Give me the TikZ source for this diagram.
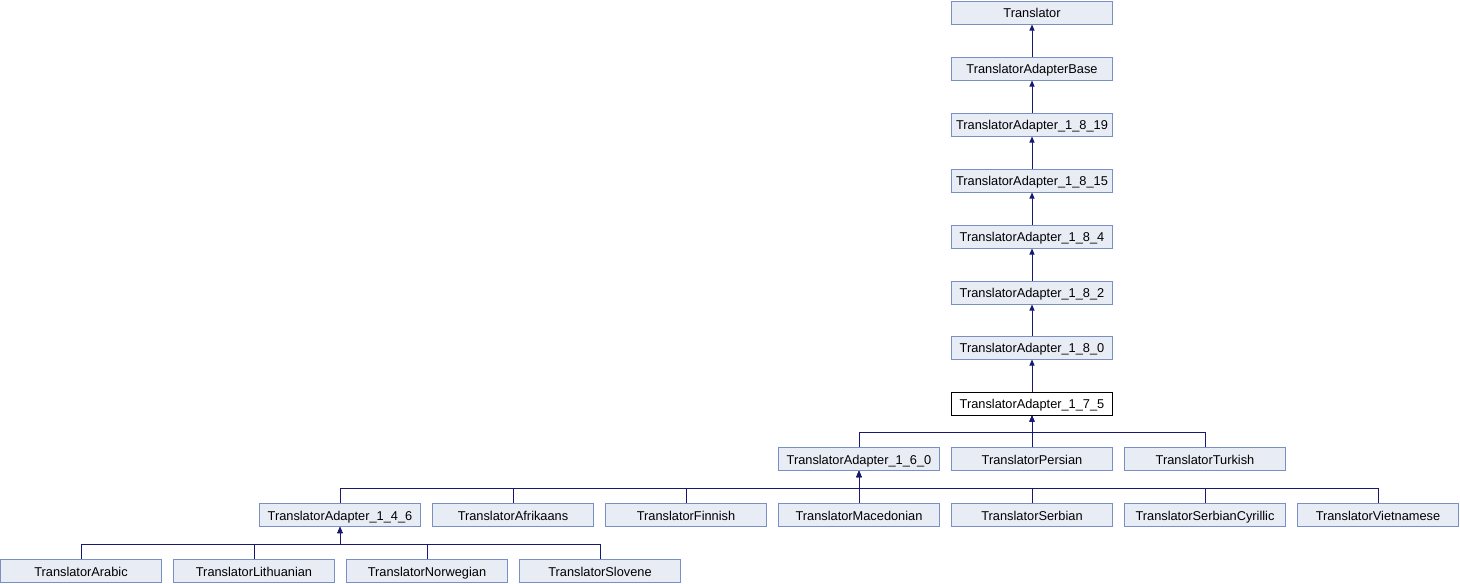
\documentclass[tikz,border=0pt]{standalone}
\usepackage{fontspec}
\setmainfont{Liberation Sans}
\usetikzlibrary{arrows.meta}
\definecolor{clsfill}{RGB}{232,236,245}
\definecolor{clsline}{RGB}{122,143,196}
\definecolor{edgeblue}{RGB}{25,25,112}
\begin{document}
\begin{tikzpicture}[x=1pt,y=-1pt,
  cls/.style={draw=clsline,fill=clsfill,line width=1pt,minimum width=161pt,minimum height=23pt,inner sep=0pt,text height=10.5pt,text depth=0.5pt,font=\fontsize{12.8}{14}\selectfont},
  cur/.style={cls,draw=black,fill=white},
  inh/.style={draw=edgeblue,line width=1pt,-{Triangle[length=6pt,width=5pt]}}]
\useasboundingbox (0,0) rectangle (1460,584);
% chain
\node[cls] (tr) at (1032,12.5){Translator};
\node[cls] (base) at (1032,68.5){TranslatorAdapterBase};
\node[cls] (a1819) at (1032,124.5){TranslatorAdapter\_1\_8\_19};
\node[cls] (a1815) at (1032,180.5){TranslatorAdapter\_1\_8\_15};
\node[cls] (a184) at (1032,236.5){TranslatorAdapter\_1\_8\_4};
\node[cls] (a182) at (1032,292.5){TranslatorAdapter\_1\_8\_2};
\node[cls] (a180) at (1032,347.5){TranslatorAdapter\_1\_8\_0};
\node[cur] (a175) at (1032,403.5){TranslatorAdapter\_1\_7\_5};
% children of 1_7_5
\node[cls] (a160) at (859,459){TranslatorAdapter\_1\_6\_0};
\node[cls] (persian) at (1032,459){TranslatorPersian};
\node[cls] (turkish) at (1205,459){TranslatorTurkish};
% children of 1_6_0
\node[cls] (a146) at (340,515){TranslatorAdapter\_1\_4\_6};
\node[cls] (afrikaans) at (513,515){TranslatorAfrikaans};
\node[cls] (finnish) at (686,515){TranslatorFinnish};
\node[cls] (macedonian) at (859,515){TranslatorMacedonian};
\node[cls] (serbian) at (1032,515){TranslatorSerbian};
\node[cls] (serbcyr) at (1205,515){TranslatorSerbianCyrillic};
\node[cls] (vietnamese) at (1378,515){TranslatorVietnamese};
% children of 1_4_6
\node[cls] (arabic) at (81,571){TranslatorArabic};
\node[cls] (lithuanian) at (254,571){TranslatorLithuanian};
\node[cls] (norwegian) at (427,571){TranslatorNorwegian};
\node[cls] (slovene) at (600,571){TranslatorSlovene};
% inheritance
\draw[inh] (base) -- (tr);
\draw[inh] (a1819) -- (base);
\draw[inh] (a1815) -- (a1819);
\draw[inh] (a184) -- (a1815);
\draw[inh] (a182) -- (a184);
\draw[inh] (a180) -- (a182);
\draw[inh] (a175) -- (a180);
\draw[inh] (a160.north) -- ++(0,-15) -| (a175.south);
\draw[inh] (persian.north) -- (a175.south);
\draw[inh] (turkish.north) -- ++(0,-15) -| (a175.south);
\draw[inh] (a146.north) -- ++(0,-15) -| (a160.south);
\draw[inh] (afrikaans.north) -- ++(0,-15) -| (a160.south);
\draw[inh] (finnish.north) -- ++(0,-15) -| (a160.south);
\draw[inh] (macedonian.north) -- (a160.south);
\draw[inh] (serbian.north) -- ++(0,-15) -| (a160.south);
\draw[inh] (serbcyr.north) -- ++(0,-15) -| (a160.south);
\draw[inh] (vietnamese.north) -- ++(0,-15) -| (a160.south);
\draw[inh] (arabic.north) -- ++(0,-15) -| (a146.south);
\draw[inh] (lithuanian.north) -- ++(0,-15) -| (a146.south);
\draw[inh] (norwegian.north) -- ++(0,-15) -| (a146.south);
\draw[inh] (slovene.north) -- ++(0,-15) -| (a146.south);
\end{tikzpicture}
\end{document}
